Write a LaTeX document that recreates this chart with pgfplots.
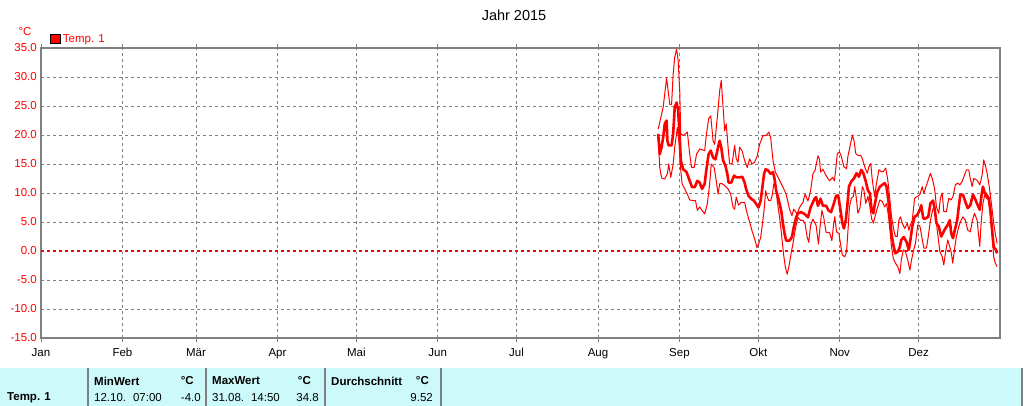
\documentclass[border=0pt]{standalone}
\usepackage{fontspec}
\setmainfont{Liberation Sans}
\usepackage{pgfplots}
\pgfplotsset{compat=1.18}
\definecolor{gridgray}{RGB}{128,128,128}
\definecolor{tabcyan}{RGB}{204,250,250}
\definecolor{zred}{RGB}{255,0,0}
\newcommand{\tfs}{\fontsize{11.5}{13}\selectfont}
\begin{document}
\begin{tikzpicture}
\path[use as bounding box] (0pt,0pt) rectangle (1024pt,406pt);
\fill[tabcyan] (0pt,0pt) rectangle (1022pt,38pt);
\foreach \xx in {88,206,325,441,1022} \draw[gridgray, line width=2pt] (\xx pt,0pt) -- (\xx pt,38pt);
\begin{axis}[
  at={(41pt,68pt)}, anchor=south west, scale only axis,
  width=959pt, height=290pt,
  xmin=0, xmax=365, ymin=-15, ymax=35,
  axis on top=false,
  xtick={0,31,59,90,120,151,181,212,243,273,304,334},
  xticklabels={Jan,Feb,Mär,Apr,Mai,Jun,Jul,Aug,Sep,Okt,Nov,Dez},
  ytick={-15,-10,-5,0,5,10,15,20,25,30,35},
  yticklabels={-15.0,-10.0,-5.0,0.0,5.0,10.0,15.0,20.0,25.0,30.0,35.0},
  grid=major,
  major grid style={gridgray, dash pattern=on 3pt off 3pt, line width=0.9pt},
  axis line style={gridgray, line width=2.5pt},
  tick align=outside, major tick length=4pt,
  xtick style={gridgray, line width=0.9pt},
  ytick style={draw=none},
  yticklabel style={text=red, font=\tfs, anchor=east, inner sep=0pt, xshift=0pt},
  xticklabel style={text=black, font=\tfs, anchor=north, inner sep=0pt, yshift=-6pt},
  legend style={at={(axis description cs:0.0094,1)}, anchor=south west, draw=none, fill=none, inner sep=0pt, outer sep=0pt, yshift=2pt, font=\tfs, text=red, legend cell align=left, nodes={inner sep=2.5pt}},
]
\addlegendimage{legend image code/.code={\draw[fill=red,draw=black,line width=0.9pt] (0pt,-4.5pt) rectangle (9.5pt,4.5pt);}}
\addlegendentry{Temp. 1}
\addplot[white, line width=2pt, forget plot] coordinates {(0.5,0) (364.5,0)};
\addplot[zred, dash pattern=on 3pt off 3pt, line width=1.2pt, forget plot] coordinates {(0,0) (365,0)};
% Max
\addplot[red, line width=1pt, line join=round, forget plot] coordinates {
(234.9,21.0)(236.8,24.8)(238.1,29.8)(238.7,27.6)(239.3,25.3)(240.0,25.3)(240.6,30.5)(241.2,33.4)(241.9,34.8)(242.5,32.9)(243.1,27.6)(243.5,20.2)(244.4,19.9)(246.0,20.5)(246.9,16.7)(247.6,14.4)(248.6,14.4)(249.5,16.7)(250.7,17.6)(252.6,17.3)(253.2,19.9)(254.1,22.8)(254.9,23.3)(255.8,19.0)(256.4,18.4)(257.4,23.0)(258.3,27.6)(258.9,29.4)(259.6,24.8)(260.2,20.7)(260.8,21.9)(261.5,17.9)(262.1,15.0)(263.0,15.0)(264.0,18.2)(264.6,15.9)(265.3,15.3)(265.9,17.9)(266.8,17.3)(267.8,15.6)(268.8,14.4)(269.7,15.9)(270.6,15.0)(271.6,15.3)(272.6,16.4)(273.5,18.4)(274.8,19.9)(276.0,19.9)(277.0,20.5)(277.7,19.6)(278.6,15.6)(279.5,13.6)(280.5,12.7)(281.5,11.8)(282.4,11.0)(283.6,9.8)(284.9,7.2)(285.8,6.1)(286.5,7.2)(287.8,6.4)(288.7,7.5)(290.0,8.4)(290.8,9.8)(291.9,8.6)(292.9,10.4)(293.8,13.3)(294.6,13.9)(295.7,16.4)(296.3,15.8)(296.7,13.6)(297.6,14.1)(298.8,13.0)(300.1,12.1)(301.3,12.7)(302.0,12.1)(303.1,16.8)(303.9,17.1)(304.6,16.3)(305.6,14.5)(306.6,14.2)(307.1,16.3)(307.9,18.0)(308.8,20.0)(309.4,19.1)(310.1,16.8)(310.9,16.5)(312.0,16.5)(312.6,15.9)(313.5,14.5)(314.5,13.4)(315.1,14.5)(315.8,15.1)(316.4,12.2)(317.3,9.4)(318.0,11.7)(318.9,14.0)(319.8,13.7)(320.6,13.7)(321.5,14.3)(322.3,12.2)(323.1,8.8)(323.7,5.9)(324.6,3.6)(325.2,2.5)(325.9,2.5)(326.5,5.3)(327.1,5.9)(327.8,4.8)(328.7,3.9)(329.7,4.8)(330.3,3.6)(330.9,4.5)(331.6,5.3)(332.5,9.1)(333.5,9.4)(334.5,9.7)(335.4,11.1)(336.0,9.9)(336.6,10.8)(337.5,12.0)(338.5,13.4)(339.2,12.5)(340.1,10.8)(340.8,7.6)(341.7,6.5)(342.3,9.1)(343.0,10.0)(343.6,6.8)(344.6,6.8)(345.5,9.1)(346.4,8.8)(347.1,9.4)(348.0,11.4)(348.9,11.7)(349.7,11.4)(350.6,12.0)(351.5,13.1)(352.2,14.0)(353.1,14.0)(353.7,12.5)(354.4,11.1)(355.0,12.5)(356.3,12.2)(357.3,11.4)(358.2,13.1)(358.8,15.7)(359.4,14.8)(360.1,13.4)(360.7,11.7)(361.3,9.7)(362.0,7.1)(362.6,4.8)(363.2,3.0)(363.9,1.3)
};
% Mean
\addplot[red, line width=2.6pt, line join=round, forget plot] coordinates {
(234.9,20.2)(235.5,16.7)(236.2,17.9)(236.8,19.6)(237.4,21.9)(238.1,22.5)(238.4,19.0)(238.9,18.2)(240.0,18.2)(240.6,20.2)(241.2,24.8)(241.9,25.6)(242.5,24.2)(243.1,19.6)(243.5,15.6)(244.4,14.1)(245.7,13.6)(246.9,12.1)(247.8,11.0)(248.8,11.0)(249.8,12.1)(250.7,11.8)(251.6,10.7)(252.6,11.6)(253.2,13.9)(254.1,16.7)(254.9,17.3)(255.8,16.1)(256.7,15.8)(257.7,17.9)(258.3,19.0)(258.9,17.9)(259.6,15.6)(260.5,14.7)(261.2,13.3)(261.7,11.8)(262.7,11.8)(263.8,13.0)(264.6,12.7)(265.9,12.7)(266.9,12.8)(267.8,11.8)(268.4,10.6)(269.3,9.5)(270.3,9.0)(271.3,8.7)(272.2,8.1)(273.1,7.5)(273.9,8.7)(274.4,10.4)(275.2,13.3)(275.8,14.1)(276.7,13.9)(277.7,13.3)(278.6,13.6)(279.2,12.4)(279.8,10.4)(280.5,9.3)(281.1,8.2)(281.7,7.0)(282.4,4.7)(283.0,3.0)(283.6,1.8)(284.9,1.8)(285.8,2.4)(286.5,4.1)(287.4,5.8)(288.1,6.5)(289.3,6.7)(290.6,6.4)(291.9,5.8)(292.9,7.5)(293.8,8.4)(294.4,9.0)(295.0,9.3)(295.7,7.8)(296.7,9.0)(297.6,7.8)(298.8,7.8)(299.7,7.0)(300.7,6.7)(301.7,8.1)(302.6,9.5)(303.4,9.6)(304.1,7.6)(305.0,4.8)(305.6,3.9)(306.3,5.3)(306.9,7.9)(307.5,11.1)(308.4,12.0)(309.4,12.5)(310.4,13.4)(311.3,12.8)(312.2,14.0)(313.0,13.4)(313.9,12.0)(314.7,10.5)(315.5,9.9)(316.1,7.1)(316.8,6.5)(317.4,8.2)(318.3,10.2)(319.3,11.1)(320.2,11.4)(321.1,11.7)(321.8,11.1)(322.5,8.8)(323.1,5.9)(323.7,3.0)(324.4,1.0)(325.2,-0.4)(326.1,-0.1)(326.9,0.7)(327.4,1.9)(328.4,2.4)(329.4,1.6)(330.3,0.2)(330.9,1.9)(331.6,4.2)(332.5,5.9)(333.5,6.2)(334.5,7.1)(335.0,7.9)(335.8,5.6)(336.6,5.6)(337.7,5.9)(338.5,8.2)(339.5,8.7)(340.2,7.1)(340.8,4.8)(341.7,4.2)(342.6,2.5)(343.3,3.1)(344.2,3.9)(345.1,4.5)(345.9,5.3)(346.4,3.1)(347.1,2.2)(347.8,3.6)(348.7,5.3)(349.3,7.6)(349.9,9.7)(350.9,9.7)(351.8,8.5)(352.7,7.4)(353.7,7.9)(354.7,9.7)(355.6,8.9)(356.5,7.9)(357.3,7.1)(357.9,9.4)(358.5,11.1)(359.0,10.2)(359.8,9.7)(360.7,9.1)(361.3,7.1)(362.0,3.6)(362.6,0.7)(363.2,0.4)(363.9,-0.4)
};
% Min
\addplot[red, line width=1pt, line join=round, forget plot] coordinates {
(234.9,19.6)(235.5,14.4)(236.2,12.6)(237.4,12.4)(238.4,13.3)(238.9,15.0)(239.7,12.7)(240.6,15.0)(241.2,17.9)(242.2,21.3)(242.9,18.4)(243.5,13.9)(244.0,11.6)(245.0,10.7)(246.0,9.8)(246.9,8.8)(248.2,8.7)(249.1,8.7)(249.8,7.0)(250.7,7.6)(251.6,7.0)(252.6,6.4)(253.6,8.1)(254.5,11.6)(255.1,15.0)(256.2,14.4)(257.0,12.1)(257.7,9.8)(258.3,11.6)(259.2,11.6)(260.2,11.3)(261.5,10.7)(262.5,9.8)(263.4,7.5)(264.0,7.2)(264.6,9.3)(265.5,7.9)(266.5,8.4)(267.8,8.4)(268.8,6.4)(269.7,5.0)(270.6,3.5)(271.6,2.1)(272.5,0.6)(273.1,1.2)(273.9,2.3)(274.5,4.4)(275.2,7.0)(275.8,10.4)(276.4,9.3)(277.0,8.7)(277.7,8.7)(278.3,9.6)(278.9,11.6)(279.5,11.6)(280.2,8.7)(281.1,5.8)(281.7,3.5)(282.6,-0.5)(283.3,-2.8)(284.0,-4.0)(284.6,-2.8)(285.5,-0.4)(286.2,1.3)(286.8,3.0)(287.4,4.4)(288.1,5.8)(289.1,5.3)(290.0,5.3)(290.8,4.7)(291.6,2.4)(292.2,1.5)(292.9,4.4)(293.8,5.5)(295.0,4.4)(295.9,1.2)(296.5,4.1)(297.2,7.0)(297.9,5.8)(298.8,3.2)(300.1,3.2)(301.0,1.8)(301.7,4.7)(302.1,5.9)(302.8,3.3)(303.7,3.0)(304.4,0.9)(305.0,-0.7)(305.9,-1.0)(306.6,-0.1)(307.1,3.3)(307.7,7.6)(308.4,9.1)(309.2,9.4)(309.7,11.1)(310.4,8.8)(310.9,6.5)(311.7,7.4)(312.6,11.1)(313.2,10.5)(313.9,8.2)(314.7,9.4)(315.5,7.6)(316.1,5.6)(316.8,4.8)(317.4,5.9)(318.3,7.4)(319.3,8.8)(320.2,8.5)(321.1,7.6)(321.8,8.2)(322.5,6.2)(323.1,3.6)(323.7,0.7)(324.4,-1.3)(325.2,-2.1)(326.1,-2.7)(326.9,-3.9)(327.4,-1.6)(328.2,0.2)(329.0,-0.1)(329.9,-1.6)(330.7,-3.3)(331.3,-1.6)(332.0,-0.1)(332.8,1.3)(333.7,4.5)(334.5,4.3)(335.1,2.8)(336.0,0.5)(337.0,0.5)(337.7,2.5)(338.5,5.3)(339.5,7.3)(340.4,6.8)(341.1,3.6)(342.1,-0.1)(343.0,-1.0)(343.6,-2.4)(344.2,-0.4)(345.1,1.9)(345.9,0.7)(346.5,-0.4)(347.0,-2.1)(347.8,0.7)(348.4,2.5)(349.3,4.2)(350.2,5.3)(350.9,5.9)(351.8,5.3)(352.7,3.6)(353.7,3.3)(354.5,5.3)(355.3,6.5)(356.3,5.3)(356.9,2.5)(357.3,0.8)(357.8,4.8)(358.5,8.2)(359.2,9.7)(359.8,9.1)(360.7,8.8)(361.3,6.5)(362.0,2.5)(362.6,-1.0)(363.2,-2.1)(363.9,-2.7)
};
\end{axis}
\node[font=\fontsize{14.5}{16}\selectfont, inner sep=0pt] at (514pt,391pt) {Jahr 2015};
\node[text=red, font=\tfs, inner sep=0pt] at (25pt,374pt) {°C};
\begin{scope}[every node/.style={inner sep=0pt, font=\tfs}]
\node[anchor=west, font=\tfs\bfseries] at (94pt,25pt) {MinWert};
\node[anchor=east, font=\tfs\bfseries] at (194pt,25pt) {°C};
\node[anchor=west, font=\tfs\bfseries] at (212pt,25pt) {MaxWert};
\node[anchor=east, font=\tfs\bfseries] at (311pt,25pt) {°C};
\node[anchor=west, font=\tfs\bfseries] at (331pt,25pt) {Durchschnitt};
\node[anchor=east, font=\tfs\bfseries] at (429pt,25pt) {°C};
\node[anchor=west, font=\tfs\bfseries] at (7pt,8pt) {Temp. 1};
\node[anchor=west] at (94pt,8pt) {12.10.\hspace{0.6em}07:00};
\node[anchor=east] at (201pt,8pt) {-4.0};
\node[anchor=west] at (212pt,8pt) {31.08.\hspace{0.6em}14:50};
\node[anchor=east] at (319pt,8pt) {34.8};
\node[anchor=east] at (433pt,8pt) {9.52};
\end{scope}
\end{tikzpicture}
\end{document}
